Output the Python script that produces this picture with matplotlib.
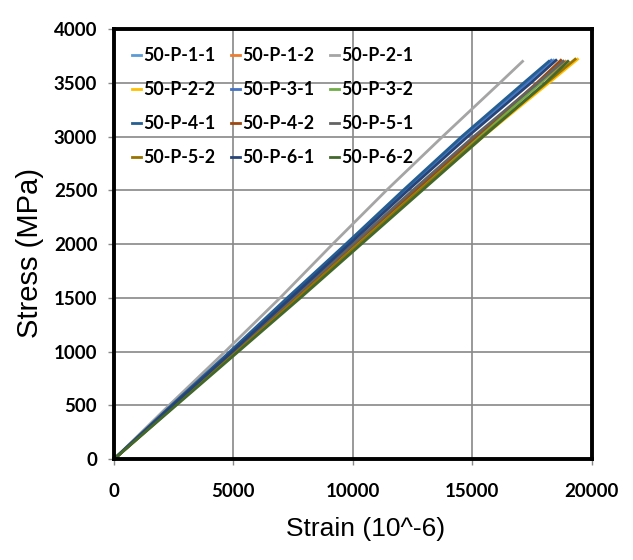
import matplotlib
matplotlib.use("Agg")
import matplotlib.pyplot as plt

labels = ["50-P-1-1", "50-P-1-2", "50-P-2-1", "50-P-2-2", "50-P-3-1", "50-P-3-2",
          "50-P-4-1", "50-P-4-2", "50-P-5-1", "50-P-5-2", "50-P-6-1", "50-P-6-2"]
colors = ["#5B9BD5", "#ED7D31", "#A5A5A5", "#FFC000", "#4472C4", "#70AD47",
          "#255E91", "#9E480E", "#636363", "#997300", "#264478", "#43682B"]

stress_levels = [0, 500, 1000, 1500, 2000, 2500, 3000, 3500]
strain_1_1 = [0, 2450, 4950, 7400, 9800, 12250, 14750, 17350]
strain_1_2 = [0, 2500, 5050, 7600, 10100, 12650, 15200, 17850]
strain_2_1 = [0, 2300, 4650, 6950, 9150, 11400, 13750, 16150]
strain_2_2 = [0, 2550, 5150, 7700, 10250, 12850, 15450, 18200]
strain_3_1 = [0, 2450, 4900, 7300, 9750, 12150, 14600, 17250]
strain_3_2 = [0, 2550, 5100, 7650, 10200, 12750, 15300, 17850]
strain_4_1 = [0, 2400, 4850, 7250, 9700, 12100, 14550, 17150]
strain_4_2 = [0, 2500, 5050, 7550, 10050, 12600, 15150, 17700]
strain_5_1 = [0, 2500, 5000, 7500, 10000, 12500, 15050, 17750]
strain_5_2 = [0, 2550, 5150, 7700, 10250, 12800, 15400, 18100]
strain_6_1 = [0, 2450, 4950, 7400, 9850, 12300, 14800, 17450]
strain_6_2 = [0, 2600, 5200, 7800, 10350, 12900, 15450, 18050]
end_strain = [18400, 18900, 17100, 19400, 18300, 18800, 18200, 18700, 18800, 19300, 18500, 19000]
end_stress = [3710, 3700, 3700, 3720, 3710, 3700, 3700, 3710, 3700, 3720, 3710, 3700]

series = [strain_1_1, strain_1_2, strain_2_1, strain_2_2, strain_3_1, strain_3_2,
          strain_4_1, strain_4_2, strain_5_1, strain_5_2, strain_6_1, strain_6_2]

fig = plt.figure(figsize=(6.33, 5.6), dpi=100)
ax = fig.add_axes([0.180, 0.180, 0.755, 0.768])

handles = []
for s, lab, c, ex, ey in zip(series, labels, colors, end_strain, end_stress):
    xs = list(s) + [ex]
    ys = list(stress_levels) + [ey]
    h, = ax.plot(xs, ys, color=c, lw=2.0, label=lab)
    handles.append(h)

ax.set_xlim(0, 20000)
ax.set_ylim(0, 4000)
ax.set_xticks([0, 5000, 10000, 15000, 20000])
ax.set_yticks(range(0, 4001, 500))
ax.grid(True, color="#888888", lw=1.2)
ax.set_axisbelow(True)
for sp in ax.spines.values():
    sp.set_linewidth(2.8)
    sp.set_color("black")
ax.tick_params(axis="both", length=4, width=1, color="#888888", labelsize=13.5)
ax.tick_params(axis="x", pad=13)
ax.tick_params(axis="y", pad=8)
for t in ax.get_xticklabels() + ax.get_yticklabels():
    t.set_fontfamily(["Lato", "DejaVu Sans"])
    t.set_fontweight("bold")

lab_font = ["Liberation Sans", "DejaVu Sans"]
ax.set_xlabel("Strain (10^-6)", fontsize=19, family=lab_font, va="top")
ax.set_ylabel("Stress (MPa)", fontsize=21, family=lab_font, va="center")
ax.xaxis.set_label_coords(0.527, -0.135)
ax.yaxis.set_label_coords(-0.176, 0.479)

order = [0, 3, 6, 9, 1, 4, 7, 10, 2, 5, 8, 11]
leg = ax.legend([handles[i] for i in order], [labels[i] for i in order],
                ncol=3, loc="upper left", bbox_to_anchor=(0.005, 0.995), frameon=False,
                handlelength=0.5, handletextpad=0.1, columnspacing=0.9, labelspacing=0.95,
                prop={"family": ["Lato", "DejaVu Sans"], "weight": "bold", "size": 12.8})

fig.savefig("out.png", dpi=100)
